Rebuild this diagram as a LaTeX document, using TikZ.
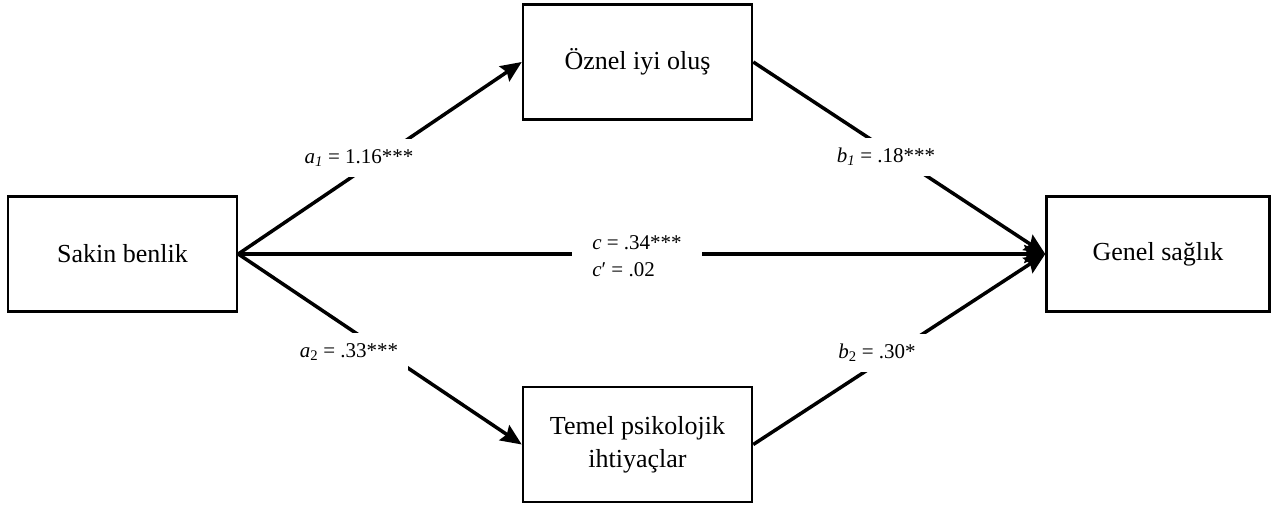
\documentclass[tikz,border=0pt]{standalone}
\usepackage{fontspec}
\setmainfont{Liberation Serif}
\usetikzlibrary{arrows.meta}

\tikzset{
  varbox/.style={draw, line width=2.5pt, minimum width=229pt, minimum height=115pt,
    align=center, font=\fontsize{26}{33}\selectfont},
  coef/.style={fill=white, inner sep=10pt, font=\fontsize{21}{27}\selectfont},
  effect/.style={line width=3.5pt, -{Stealth[length=21pt, width=18pt, inset=3pt]}},
}

\begin{document}
\begin{tikzpicture}[x=1pt, y=-1pt]
  % Same size as the figure
  \useasboundingbox (0,0) rectangle (1273,505);

  % Variables
  \node[varbox] (X) at (122.5,254) {Sakin benlik};
  \node[varbox] (M1) at (637.5,62) {Öznel iyi oluş};
  \node[varbox] (M2) at (637.5,444.5) {Temel psikolojik\\ihtiyaçlar};
  \node[varbox, minimum width=223pt] (Y) at (1158,254) {Genel sağlık};

  % Paths
  \draw[effect] (X.east) -- (M1.west);
  \draw[effect] (X.east) -- (M2.west);
  \draw[effect] (M1.east) -- (Y.west);
  \draw[effect] (M2.east) -- (Y.west);
  \draw[effect] (X.east) -- (Y.west);

  % Coefficients on top of the paths
  \node[coef] (a1) at (359,158) {\textit{a}\textsubscript{\textit{1}} = 1.16***};
  \node[coef] (b1) at (886,157) {\textit{b}\textsubscript{\textit{1}} = .18***};
  \node[coef] (a2) at (349,352) {\textit{a}\textsubscript{2} = .33***};
  \node[coef] (b2) at (877,353) {\textit{b}\textsubscript{2} = .30*};
  \node[coef, align=left, inner xsep=20pt] (c) at (637,256)
    {\textit{c} = .34***\\\textit{c}′ = .02};
\end{tikzpicture}
\end{document}
